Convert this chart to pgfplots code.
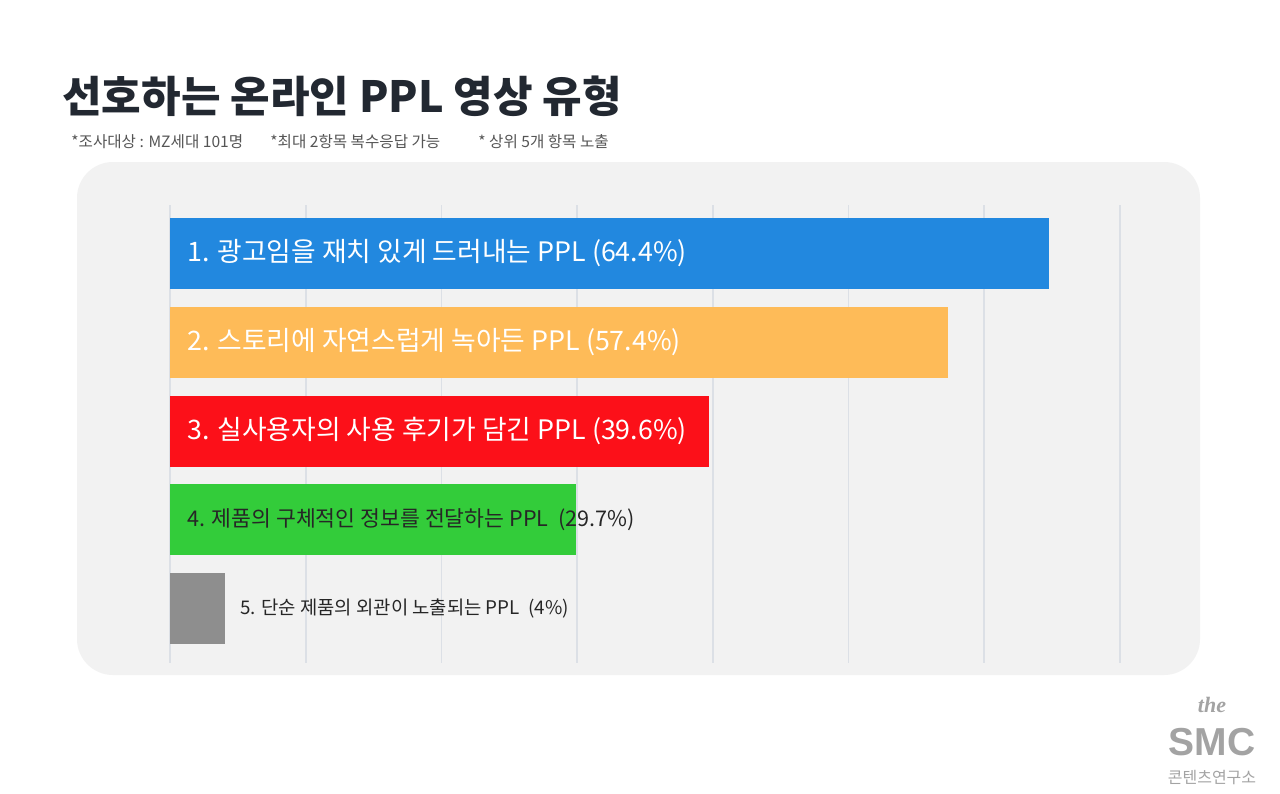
\documentclass[border=0pt]{standalone}
\usepackage{pgfplots}
\pgfplotsset{compat=1.18}
\usepackage{fontspec}
\setmainfont{Noto Sans CJK KR}
\newfontfamily\cjk{Noto Sans CJK KR}
\newfontfamily\serifit{Liberation Serif}
\newfontfamily\logofont{Liberation Sans}
\definecolor{cBlue}{HTML}{2288DF}
\definecolor{cOrange}{HTML}{FEBB58}
\definecolor{cRed}{HTML}{FC1019}
\definecolor{cGreen}{HTML}{33CC3A}
\definecolor{cGray}{HTML}{8E8E8E}
\definecolor{cPanel}{HTML}{F2F2F2}
\definecolor{cGrid}{HTML}{DCE0E6}
\definecolor{cTitle}{HTML}{222831}
\definecolor{cSub}{HTML}{555555}
\definecolor{cLogo}{HTML}{A3A3A3}
\begin{document}
\begin{tikzpicture}[x=0.5pt,y=-0.5pt]
\fill[white] (0,0) rectangle (1280,793);
\fill[cPanel, rounded corners=18pt] (77,162) rectangle (1200,675);
% title
\node[anchor=base west, inner sep=0pt, text=cTitle, font=\cjk\bfseries\fontsize{21.5}{25}\selectfont] at (62,112) {선호하는 온라인 PPL 영상 유형};
\node[anchor=base west, inner sep=0pt, text=cSub, font=\cjk\fontsize{7.8}{9}\selectfont] at (71,147) {*조사대상 : MZ세대 101명};
\node[anchor=base west, inner sep=0pt, text=cSub, font=\cjk\fontsize{7.8}{9}\selectfont] at (270,147) {*최대 2항목 복수응답 가능};
\node[anchor=base west, inner sep=0pt, text=cSub, font=\cjk\fontsize{7.8}{9}\selectfont] at (478,147) {* 상위 5개 항목 노출};
% logo
\node[anchor=base, inner sep=0pt, text=cLogo, font=\serifit\bfseries\itshape\fontsize{11}{12}\selectfont] at (1212,712) {the};
\node[anchor=base, inner sep=0pt, text=cLogo, font=\logofont\bfseries\fontsize{19.5}{21}\selectfont] at (1212,755) {SMC};
\node[anchor=base, inner sep=0pt, text=cLogo, font=\cjk\fontsize{8}{9}\selectfont] at (1212,783) {콘텐츠연구소};
\begin{axis}[
  at={(85pt,-331.5pt)}, anchor=south west,
  scale only axis, width=475pt, height=229pt,
  xmin=0, xmax=70, ymin=0.4535, ymax=5.614, y dir=reverse,
  xbar, bar width=35.5pt, bar shift=0pt,
  xtick={0,10,...,70}, ytick=\empty,
  xticklabels={}, 
  xmajorgrids, grid style={draw=cGrid, line width=0.8pt},
  axis line style={draw=none}, major tick length=0pt,
  clip=false,
]
\addplot[fill=cBlue, draw=none] coordinates {(64.8,1)};
\addplot[fill=cOrange, draw=none] coordinates {(57.3,2)};
\addplot[fill=cRed, draw=none] coordinates {(39.7,3)};
\addplot[fill=cGreen, draw=none] coordinates {(29.9,4)};
\addplot[fill=cGray, draw=none] coordinates {(4.05,5)};
\node[anchor=west, inner sep=0pt, text=white, font=\cjk\fontsize{13.4}{15}\selectfont] at (axis cs:1.25,1) {1. 광고임을 재치 있게 드러내는 PPL (64.4\%)};
\node[anchor=west, inner sep=0pt, text=white, font=\cjk\fontsize{13.4}{15}\selectfont] at (axis cs:1.25,2) {2. 스토리에 자연스럽게 녹아든 PPL (57.4\%)};
\node[anchor=west, inner sep=0pt, text=white, font=\cjk\fontsize{13.4}{15}\selectfont] at (axis cs:1.25,3) {3. 실사용자의 사용 후기가 담긴 PPL (39.6\%)};
\node[anchor=west, inner sep=0pt, text=black!85, font=\cjk\fontsize{10.8}{12}\selectfont] at (axis cs:1.25,4) {4. 제품의 구체적인 정보를 전달하는 PPL~~(29.7\%)};
\node[anchor=west, inner sep=0pt, text=black!85, font=\cjk\fontsize{9.4}{11}\selectfont] at (axis cs:5.15,5) {5. 단순 제품의 외관이 노출되는 PPL~~(4\%)};
\end{axis}
\end{tikzpicture}
\end{document}
